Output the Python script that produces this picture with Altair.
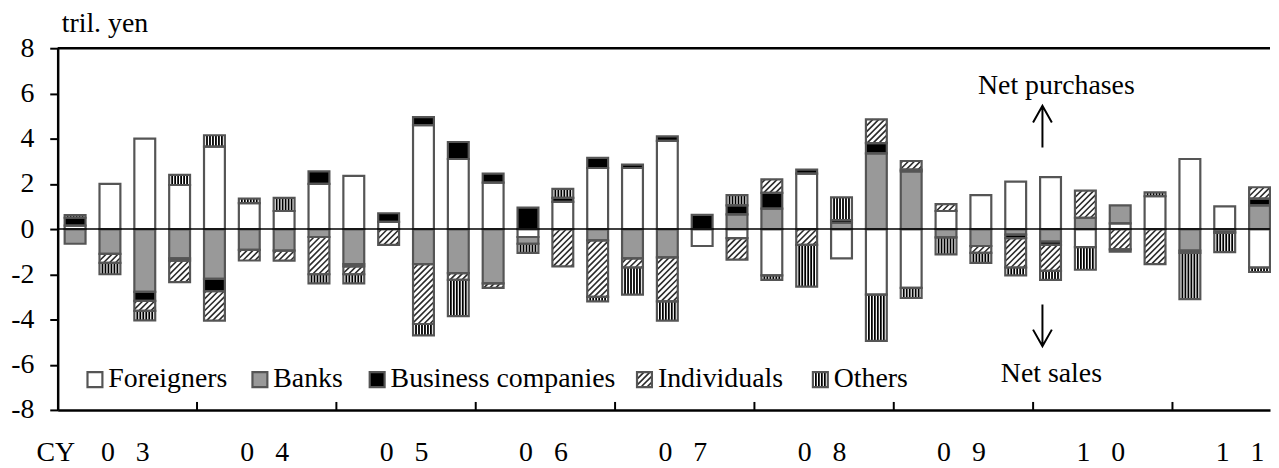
import math
import altair as alt
import pandas as pd

# ---------------- data ----------------
years = ["03", "04", "05", "06", "07", "08", "09", "10", "11"]
quarters = [f"{y}Q{q}" for y in years for q in (1, 2, 3, 4)][:35]
categories = ["Foreigners", "Banks", "Business companies", "Individuals", "Others"]

foreigners = [0.15, 2.0, 4.0, 1.95, 3.65, 1.15, 0.8, 2.0, 2.35, 0.32, 4.6, 3.1,
              2.05, -0.35, 1.2, 2.7, 2.7, 3.9, -0.75, -0.4, -2.05, 2.45, -1.3, -2.9,
              -2.6, 0.8, 1.5, 2.1, 2.3, -0.8, 0.25, 1.45, 3.1, 1.0, -1.7]
banks = [-0.65, -1.1, -2.78, -1.3, -2.2, -0.92, -0.95, -0.35, -1.55, 0, -1.55, -1.95,
         -2.4, -0.3, 0, -0.5, -1.3, -1.25, 0, 0.65, 0.9, 0, 0.28, 3.35,
         2.55, -0.37, -0.75, -0.25, -0.55, 0.5, 0.8, 0, -0.95, -0.12, 1.05]
business = [0.35, 0, -0.4, -0.1, -0.55, 0, 0, 0.55, -0.1, 0.38, 0.35, 0.75,
            0.4, 0.95, 0.18, 0.45, 0.15, 0.2, 0.63, 0.4, 0.7, 0.18, 0.12, 0.45,
            0.08, 0, 0, -0.15, -0.15, 0, 0, 0, 0, 0, 0.3]
individuals = [0, -0.4, -0.44, -0.95, -1.3, -0.47, -0.45, -1.65, -0.35, -0.7, -2.65, -0.3,
               -0.2, 0, -1.65, -2.5, -0.4, -1.95, 0, -0.95, 0.6, -0.7, 0, 1.05,
               0.38, 0.3, -0.3, -1.3, -1.15, 1.2, -0.9, -1.55, -0.1, -0.05, 0.5]
others = [0.12, -0.5, -0.42, 0.45, 0.5, 0.2, 0.58, -0.4, -0.4, 0, -0.5, -1.6,
          0, -0.4, 0.4, -0.2, -1.2, -0.85, 0, 0.45, -0.2, -1.85, 1.0, -2.05,
          -0.45, -0.75, -0.45, -0.35, -0.4, -1.0, -0.1, 0.17, -2.05, -0.85, -0.2]
series = [foreigners, banks, business, individuals, others]
fills = ["white", "#999999", "black", "white", "white"]

# ---------------- layout ----------------
FONT = "Liberation Serif"
FS = 28
W, H = 1220, 364
XMIN, XMAX = -0.5, 34.3
YMIN, YMAX = -8.0, 8.0
PX = W / (XMAX - XMIN)
PY = H / (YMAX - YMIN)
BAR_HALF = 10.5 / PX
STEP = 6.0
EDGE = "#555555"

# legend layout (pixels relative to plot's top-left)
leg_box_x = [30, 196, 314, 583, 760]
leg_box_top, leg_box_bot, leg_box_w = 326, 341, 15


def dx(px):
    return XMIN + px / PX


def dy(py):
    return YMAX - py / PY


# stacked segments
rows = []
for i in range(len(quarters)):
    pos, neg = 0.0, 0.0
    for cat, vals in zip(categories, series):
        v = vals[i]
        if v == 0:
            continue
        if v > 0:
            lo, hi = pos, pos + v
            pos += v
        else:
            lo, hi = neg + v, neg
            neg += v
        rows.append(dict(cat=cat, xa=i - BAR_HALF, xb=i + BAR_HALF, lo=lo, hi=hi))
# legend boxes share the same drawing layers
for cat, bx in zip(categories, leg_box_x):
    rows.append(dict(cat=cat, xa=dx(bx), xb=dx(bx + leg_box_w),
                     lo=dy(leg_box_bot), hi=dy(leg_box_top)))
seg = pd.DataFrame(rows)

# pattern lines (diagonal hatch for Individuals, vertical stripes for Others)
hrows = []
for r in seg.itertuples():
    x0, x1 = (r.xa - XMIN) * PX, (r.xb - XMIN) * PX
    y0, y1 = (r.lo - YMIN) * PY, (r.hi - YMIN) * PY
    if r.cat == "Individuals":
        k0 = math.floor((y0 - x1) / STEP)
        k1 = math.ceil((y1 - x0) / STEP)
        for k in range(k0, k1 + 1):
            c = k * STEP
            a = max(x0, y0 - c)
            b = min(x1, y1 - c)
            if b - a > 0.4:
                hrows.append(dict(kind="diag", x=a / PX + XMIN, y=(a + c) / PY + YMIN,
                                  x2=b / PX + XMIN, y2=(b + c) / PY + YMIN))
    elif r.cat == "Others":
        cx, half = (x0 + x1) / 2, (x1 - x0) / 2
        off, offs = 1.5, []
        while off <= half - 2.9:
            offs += [off, -off]
            off += 3.0
        for o in offs:
            xv = (cx + o) / PX + XMIN
            hrows.append(dict(kind="vert", x=xv, y=r.lo, x2=xv, y2=r.hi))
hatch = pd.DataFrame(hrows)

# year labels: the two digits sit under the 2nd and 3rd quarter of each year
yl = []
for k, y in enumerate(years):
    yl.append(dict(x=4 * k + 1, t=y[0]))
    yl.append(dict(x=4 * k + 2, t=y[1]))
year_df = pd.DataFrame(yl)
tick_df = pd.DataFrame({"x": [4 * k + 3.5 for k in range(len(years) - 1)]})
leg_df = pd.DataFrame({"x": [dx(b + leg_box_w + 6) for b in leg_box_x],
                       "y": [dy(leg_box_bot)] * 5, "t": categories})
one = pd.DataFrame({"k": [0]})

# ---------------- encodings ----------------
XS = alt.Scale(domain=[XMIN, XMAX], nice=False, zero=False)
YS = alt.Scale(domain=[YMIN, YMAX], nice=False, zero=False)
XA = alt.Axis(domain=True, domainColor="black", domainWidth=2.5, ticks=False,
              labels=False, grid=False, title=None)
YA = alt.Axis(values=list(range(-8, 9, 2)), tickSize=8, tickWidth=2, tickColor="black",
              domainColor="black", domainWidth=2.5, labelFont=FONT, labelFontSize=FS,
              labelColor="black", labelPadding=16, grid=False, title=None,
              labelOverlap=False, labelFlush=False, labelExpr="'' + datum.value")


def X(f):
    return alt.X(f, type="quantitative", scale=XS, axis=XA)


def Y(f):
    return alt.Y(f, type="quantitative", scale=YS, axis=YA)


base = alt.Chart(seg)
fill_layer = base.mark_rect(strokeWidth=0).encode(
    x=X("xa"), x2="xb", y=Y("lo"), y2="hi",
    fill=alt.Fill("cat:N", scale=alt.Scale(domain=categories, range=fills), legend=None),
)
diag_layer = alt.Chart(hatch).transform_filter("datum.kind == 'diag'").mark_rule(
    color="#2a2a2a", strokeWidth=1.6).encode(x=X("x"), y=Y("y"), x2="x2", y2="y2")
vert_layer = alt.Chart(hatch).transform_filter("datum.kind == 'vert'").mark_rule(
    color="black", strokeWidth=1.8).encode(x=X("x"), y=Y("y"), x2="x2", y2="y2")
outline_layer = base.mark_rect(fillOpacity=0, stroke=EDGE, strokeWidth=2.2).encode(
    x=X("xa"), x2="xb", y=Y("lo"), y2="hi")

top_border = alt.Chart(one).mark_rule(color="black", strokeWidth=2.5).encode(
    y=alt.value(0))
zero_line = alt.Chart(one).mark_rule(color="black", strokeWidth=1.6).encode(
    y=alt.Y(datum=0, type="quantitative", scale=YS, axis=YA))
year_ticks = alt.Chart(tick_df).mark_rule(color="black", strokeWidth=2).encode(
    x=X("x"), y=alt.value(H), y2=alt.value(H - 8))

txt = dict(font=FONT, fontSize=FS, color="black", baseline="alphabetic")
year_text = alt.Chart(year_df).mark_text(align="center", dx=-2, **txt).encode(
    x=X("x"), y=alt.value(415), text="t:N")
cy_text = alt.Chart(one).mark_text(align="center", text="CY", **txt).encode(
    x=alt.value(-2), y=alt.value(415))
unit_text = alt.Chart(one).mark_text(align="left", text="tril. yen", **txt).encode(
    x=alt.value(4), y=alt.value(-16))
np_text = alt.Chart(one).mark_text(align="center", text="Net purchases", **txt).encode(
    x=alt.value(1005), y=alt.value(46))
ns_text = alt.Chart(one).mark_text(align="center", text="Net sales", **txt).encode(
    x=alt.value(1000), y=alt.value(336))
up_arrow = alt.Chart(one).mark_point(
    shape="M0,1L0,-1M-0.45,-0.2L0,-1L0.45,-0.2", filled=False, stroke="black",
    strokeWidth=2, size=1764, opacity=1).encode(x=alt.value(991), y=alt.value(79))
down_arrow = alt.Chart(one).mark_point(
    shape="M0,-1L0,1M-0.45,0.2L0,1L0.45,0.2", filled=False, stroke="black",
    strokeWidth=2, size=1764, opacity=1).encode(x=alt.value(991), y=alt.value(279))
leg_text = alt.Chart(leg_df).mark_text(align="left", **txt).encode(
    x=X("x"), y=Y("y"), text="t:N")

chart = alt.layer(
    top_border, fill_layer, diag_layer, vert_layer, outline_layer, zero_line,
    year_ticks, year_text, cy_text, unit_text, np_text, ns_text, up_arrow, down_arrow,
    leg_text,
).properties(
    width=W, height=H,
    padding={"left": 50, "top": 39, "right": 1, "bottom": 57},
    autosize=alt.AutoSizeParams(type="none"),
    background="white",
).configure_view(stroke=None)

chart.save("out.html", embed_options={"renderer": "svg", "actions": False})
